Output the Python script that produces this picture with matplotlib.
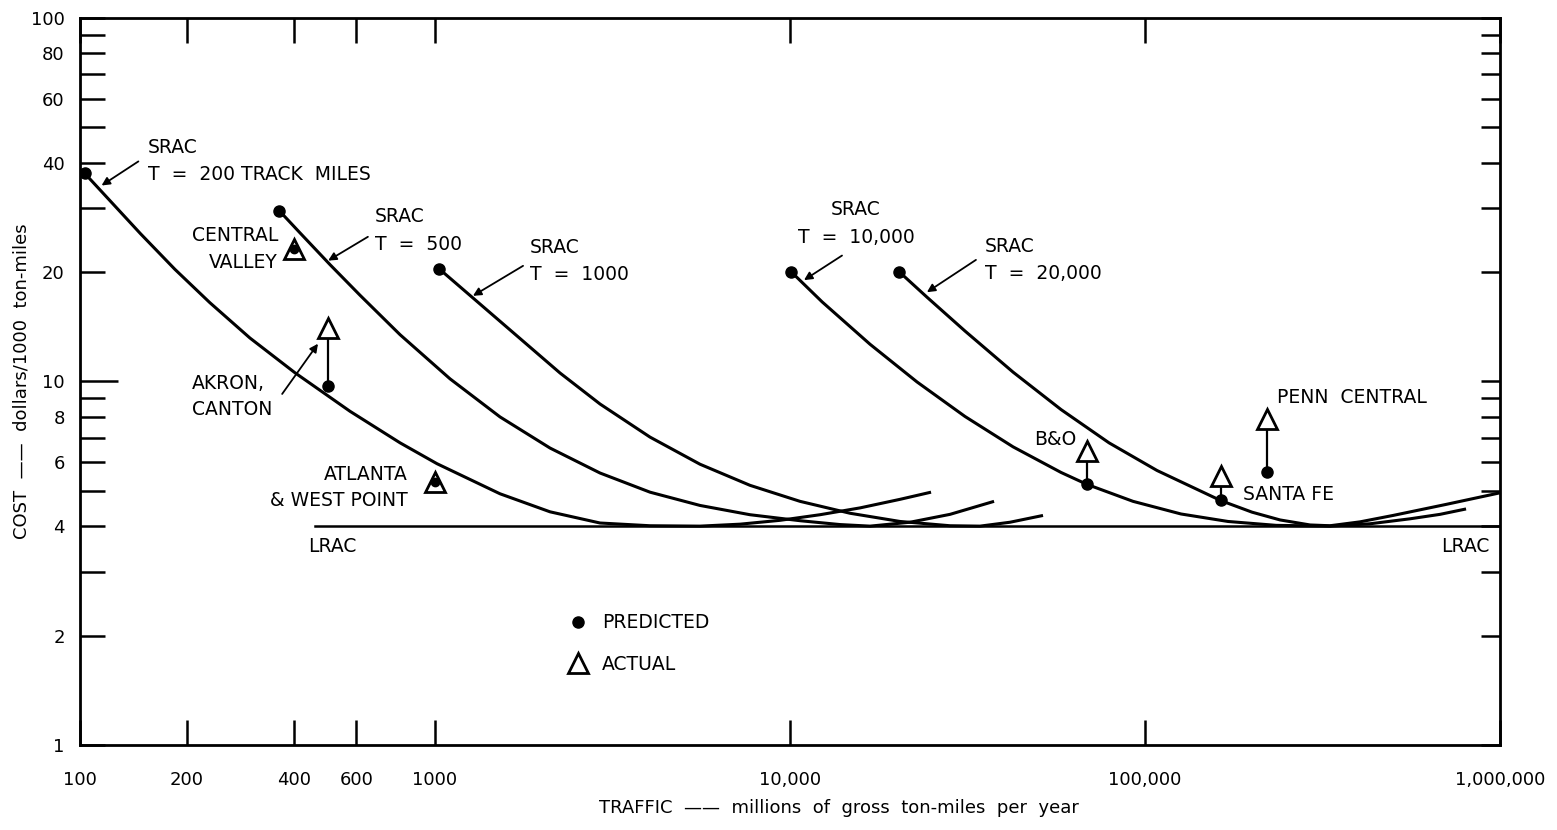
import matplotlib
matplotlib.use('Agg')
import matplotlib.pyplot as plt
from matplotlib.lines import Line2D
from matplotlib.ticker import NullLocator

# SRAC curves (traffic, cost)
srac_200_x = [103, 118, 148, 185, 232, 301, 403, 576, 797, 1013, 1524, 2108, 2916,
              4033, 5578, 7232, 9372, 12150, 15750, 20410, 24960]
srac_200_y = [37.4, 32.4, 25.5, 20.35, 16.48, 13.17, 10.57, 8.28, 6.78, 5.94, 4.91, 4.38, 4.08,
              4.01, 4.0, 4.05, 4.15, 4.30, 4.49, 4.74, 4.96]

srac_500_x = [364, 417, 506, 615, 797, 1102, 1524, 2108, 2916, 4033, 5578, 7713,
              10670, 13830, 16800, 21780, 28230, 37560]
srac_500_y = [29.5, 25.6, 20.96, 17.26, 13.45, 10.17, 7.99, 6.56, 5.60, 4.96, 4.56, 4.30,
              4.14, 4.04, 4.0, 4.10, 4.31, 4.68]

srac_1000_x = [1026, 1339, 1735, 2250, 2916, 4033, 5578, 7713, 10670, 14760, 20410,
               28230, 34290, 41660, 51600]
srac_1000_y = [20.43, 16.33, 13.13, 10.55, 8.67, 7.03, 5.92, 5.18, 4.68, 4.34, 4.12,
               4.01, 4.0, 4.10, 4.28]

srac_10000_x = [10065, 12310, 16800, 22790, 31120, 42490, 58000, 68660, 92520, 126300,
                171300, 233900, 331900, 430300, 557800, 677700, 802300]
srac_10000_y = [20.05, 16.56, 12.66, 9.97, 8.01, 6.61, 5.62, 5.21, 4.68, 4.32,
                4.12, 4.02, 4.0, 4.06, 4.19, 4.31, 4.46]

srac_20000_x = [20280, 24320, 31120, 42490, 58000, 79170, 108100, 163700, 200200,
                240100, 291600, 331900, 403300, 499500, 704600, 1000000]
srac_20000_y = [20.05, 17.05, 13.76, 10.61, 8.37, 6.78, 5.69, 4.70, 4.37,
                4.16, 4.03, 4.01, 4.11, 4.28, 4.59, 4.94]

lrac_x = [460, 1000000]
lrac_y = [4.0, 4.0]

# railroads: predicted vs actual
rr_names = ['CENTRAL VALLEY', 'AKRON CANTON', 'ATLANTA & WEST POINT', 'B&O', 'SANTA FE', 'PENN CENTRAL']
rr_traffic = [400, 500, 1000, 68700, 163700, 220700]
rr_predicted = [23.2, 9.7, 5.3, 5.21, 4.71, 5.63]
rr_actual = [23.2, 14.0, 5.3, 6.43, 5.49, 7.88]

x_ticks = [100, 200, 400, 600, 1000, 10000, 100000, 1000000]
x_ticklabels = ['100', '200', '400', '600', '1000', '10,000', '100,000', '1,000,000']
y_ticks = [1, 2, 3, 4, 5, 6, 7, 8, 9, 10, 20, 30, 40, 50, 60, 70, 80, 90, 100]
y_ticklabels = ['1', '2', '', '4', '', '6', '', '8', '', '10', '20', '', '40', '',
                '60', '', '80', '', '100']

plt.rcParams['font.family'] = ['DejaVu Sans']

fig = plt.figure(figsize=(15.57, 8.30), dpi=100)
ax = fig.add_axes([0.0514, 0.1024, 0.912, 0.876])
ax.set_xscale('log')
ax.set_yscale('log')
ax.set_xlim(100, 1000000)
ax.set_ylim(1, 100)

lw = 2.2
for xs, ys in [(srac_200_x, srac_200_y), (srac_500_x, srac_500_y), (srac_1000_x, srac_1000_y),
               (srac_10000_x, srac_10000_y), (srac_20000_x, srac_20000_y)]:
    ax.plot(xs, ys, color='k', lw=lw, solid_joinstyle='round', solid_capstyle='butt')
    ax.plot(xs[0], ys[0], 'o', color='k', ms=8)
ax.plot(lrac_x, lrac_y, color='k', lw=1.8)

for x, p, a in zip(rr_traffic, rr_predicted, rr_actual):
    if a > p:
        ax.plot([x, x], [p, a], color='k', lw=1.6)
    ax.plot(x, a, '^', ms=15, mfc='white', mec='k', mew=2)
    ax.plot(x, p, 'o', color='k', ms=8 if a > p else 6)

fs = 13.5
ls = 1.55
arrow = dict(arrowstyle='-|>', color='k', lw=1.3, mutation_scale=12, shrinkA=0, shrinkB=0)
ax.text(155, 40.5, 'SRAC\nT  =  200 TRACK  MILES', fontsize=fs, ha='left', va='center', linespacing=ls)
ax.annotate('', xy=(115, 34.6), xytext=(146, 40.3), arrowprops=arrow)
ax.text(678, 26.0, 'SRAC\nT  =  500', fontsize=fs, ha='left', va='center', linespacing=ls)
ax.annotate('', xy=(500, 21.5), xytext=(647, 25.0), arrowprops=arrow)
ax.text(1852, 21.4, 'SRAC\nT  =  1000', fontsize=fs, ha='left', va='center', linespacing=ls)
ax.annotate('', xy=(1279, 17.2), xytext=(1770, 20.8), arrowprops=arrow)
ax.text(15350, 27.2, 'SRAC\nT  =  10,000', fontsize=fs, ha='center', va='center', linespacing=ls)
ax.annotate('', xy=(10950, 19.0), xytext=(14010, 22.2), arrowprops=arrow)
ax.text(35400, 21.6, 'SRAC\nT  =  20,000', fontsize=fs, ha='left', va='center', linespacing=ls)
ax.annotate('', xy=(24300, 17.6), xytext=(33400, 21.6), arrowprops=arrow)

ax.text(361, 23.1, 'CENTRAL\nVALLEY', fontsize=fs, ha='right', va='center',
        multialignment='right', linespacing=ls)
ax.text(207, 9.1, 'AKRON,\nCANTON', fontsize=fs, ha='left', va='center', linespacing=1.45)
ax.annotate('', xy=(468, 12.7), xytext=(371, 9.24), arrowprops=arrow)
ax.text(839, 5.12, 'ATLANTA\n& WEST POINT', fontsize=fs, ha='right', va='center',
        multialignment='right', linespacing=1.45)
ax.text(63900, 6.94, 'B&O', fontsize=fs, ha='right', va='center')
ax.text(188800, 4.89, 'SANTA FE', fontsize=fs, ha='left', va='center')
ax.text(235600, 9.06, 'PENN  CENTRAL', fontsize=fs, ha='left', va='center')
ax.text(438, 3.52, 'LRAC', fontsize=fs, ha='left', va='center')
ax.text(937000, 3.52, 'LRAC', fontsize=fs, ha='right', va='center')

handles = [Line2D([], [], ls='none', marker='o', color='k', ms=8),
           Line2D([], [], ls='none', marker='^', ms=15, mfc='white', mec='k', mew=2)]
ax.legend(handles, ['PREDICTED', 'ACTUAL'], loc='upper left', bbox_to_anchor=(0.344, 0.181),
          frameon=False, fontsize=fs, borderpad=0, borderaxespad=0, handlelength=1.0,
          handletextpad=0.8, labelspacing=1.2)

# axes styling: inward ticks on all four sides
for s in ax.spines.values():
    s.set_linewidth(2.0)
ax.set_xticks(x_ticks)
ax.set_xticklabels(x_ticklabels)
ax.set_yticks(y_ticks)
ax.set_yticklabels(y_ticklabels)
ax.xaxis.set_minor_locator(NullLocator())
ax.yaxis.set_minor_locator(NullLocator())
ax.tick_params(axis='both', which='major', direction='in', length=18, width=1.8,
               top=True, right=True, labelsize=13)
ax.tick_params(axis='y', pad=11)
ax.tick_params(axis='x', pad=19)
for t in ax.yaxis.get_major_ticks():
    t.tick2line.set_markersize(14)
ax.yaxis.get_major_ticks()[y_ticks.index(10)].tick1line.set_markersize(27)

ax.set_xlabel('TRAFFIC  ——  millions  of  gross  ton-miles  per  year', fontsize=13)
ax.xaxis.set_label_coords(0.5345, -0.074)
ax.set_ylabel('COST  ——  dollars/1000  ton-miles', fontsize=13)
ax.yaxis.set_label_coords(-0.0352, 0.5)

fig.savefig('out.png', dpi=100)
